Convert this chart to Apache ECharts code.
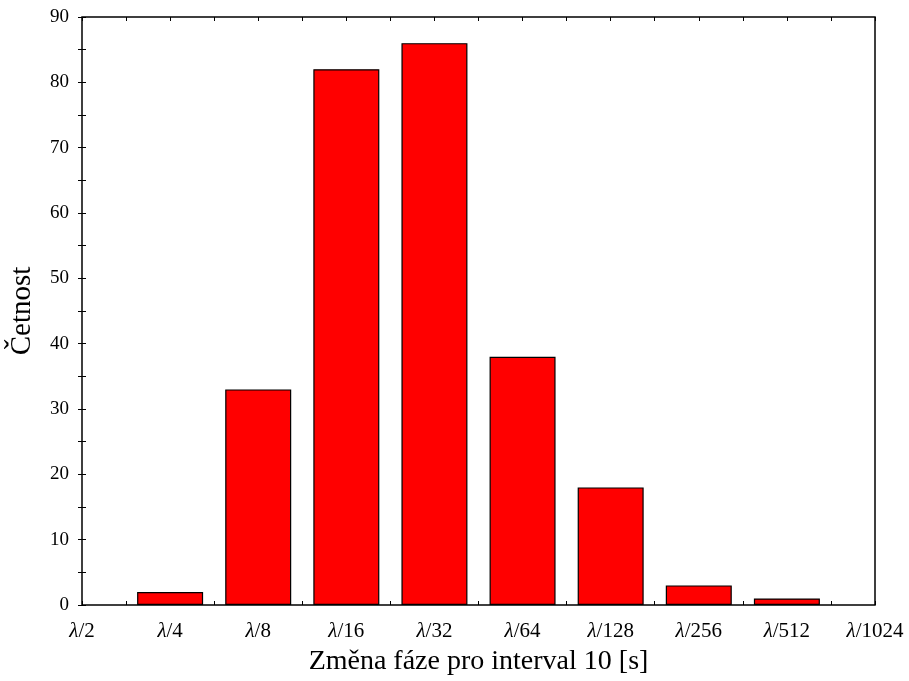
<!DOCTYPE html>
<html>
<head>
<meta charset="utf-8">
<script src="https://cdn.jsdelivr.net/npm/echarts@6/dist/echarts.min.js"></script>
<style>html,body{margin:0;padding:0;background:#fff}#c{width:909px;height:681px}</style>
</head>
<body>
<div id="c"></div>
<script>
var categories = ['2', '4', '8', '16', '32', '64', '128', '256', '512', '1024'];
var counts = [0, 2, 33, 82, 86, 38, 18, 3, 1, 0];
var yTicks = [0, 10, 20, 30, 40, 50, 60, 70, 80, 90];

var FONT = '"Liberation Serif", "DejaVu Serif", serif';
var chart = echarts.init(document.getElementById('c'), null, {renderer: 'canvas'});
var tickSide = function (pos) {
  return {
    type: 'value', position: pos, min: 0, max: categories.length - 1, interval: 1,
    axisLine: {show: false}, splitLine: {show: false}, axisLabel: {show: false},
    axisTick: {show: true, inside: true, length: 4, lineStyle: {color: '#000', width: 1}},
    minorTick: {show: true, splitNumber: 2, length: 4, lineStyle: {color: '#000', width: 1}}
  };
};
chart.setOption({
  backgroundColor: '#fff',
  animation: false,
  grid: {left: 81, right: 34, top: 17, bottom: 76, show: true, borderColor: '#000', borderWidth: 1.5, backgroundColor: 'transparent'},
  xAxis: [
    {
      type: 'category', data: categories, boundaryGap: false, position: 'bottom',
      name: 'Změna fáze pro interval 10 [s]', nameLocation: 'middle', nameGap: 43,
      nameTextStyle: {fontFamily: FONT, fontSize: 28, color: '#000'},
      axisLine: {show: false}, axisTick: {show: false}, splitLine: {show: false},
      axisLabel: {
        interval: 0, margin: 16, color: '#000', fontFamily: FONT, fontSize: 21,
        formatter: function (v) { return '{i|λ}/' + v; },
        rich: {i: {fontStyle: 'italic', fontFamily: FONT, fontSize: 21, color: '#000'}}
      }
    },
    tickSide('bottom'),
    tickSide('top')
  ],
  yAxis: [
    {
      type: 'value', min: yTicks[0], max: yTicks[yTicks.length - 1], interval: 10, position: 'left',
      name: 'Četnost', nameLocation: 'middle', nameGap: 45, nameRotate: 90,
      nameTextStyle: {fontFamily: FONT, fontSize: 29, color: '#000'},
      axisLine: {show: false}, splitLine: {show: false},
      axisTick: {show: true, inside: true, length: 4, lineStyle: {color: '#000'}},
      minorTick: {show: true, splitNumber: 2, length: 4, lineStyle: {color: '#000'}},
      axisLabel: {margin: 13, color: '#000', fontFamily: FONT, fontSize: 19}
    },
    {
      type: 'value', min: yTicks[0], max: yTicks[yTicks.length - 1], interval: 10, position: 'right',
      axisLine: {show: false}, splitLine: {show: false}, axisLabel: {show: false},
      axisTick: {show: true, inside: true, length: 4, lineStyle: {color: '#000'}},
      minorTick: {show: true, splitNumber: 2, length: 4, lineStyle: {color: '#000'}}
    }
  ],
  series: [{
    type: 'bar', xAxisIndex: 0, yAxisIndex: 0, barWidth: 66,
    data: counts.map(function (v) { return v === 0 ? null : v; }),
    itemStyle: {color: '#ff0000', borderColor: '#000', borderWidth: 1.2},
    silent: true
  }]
});
</script>
</body>
</html>
